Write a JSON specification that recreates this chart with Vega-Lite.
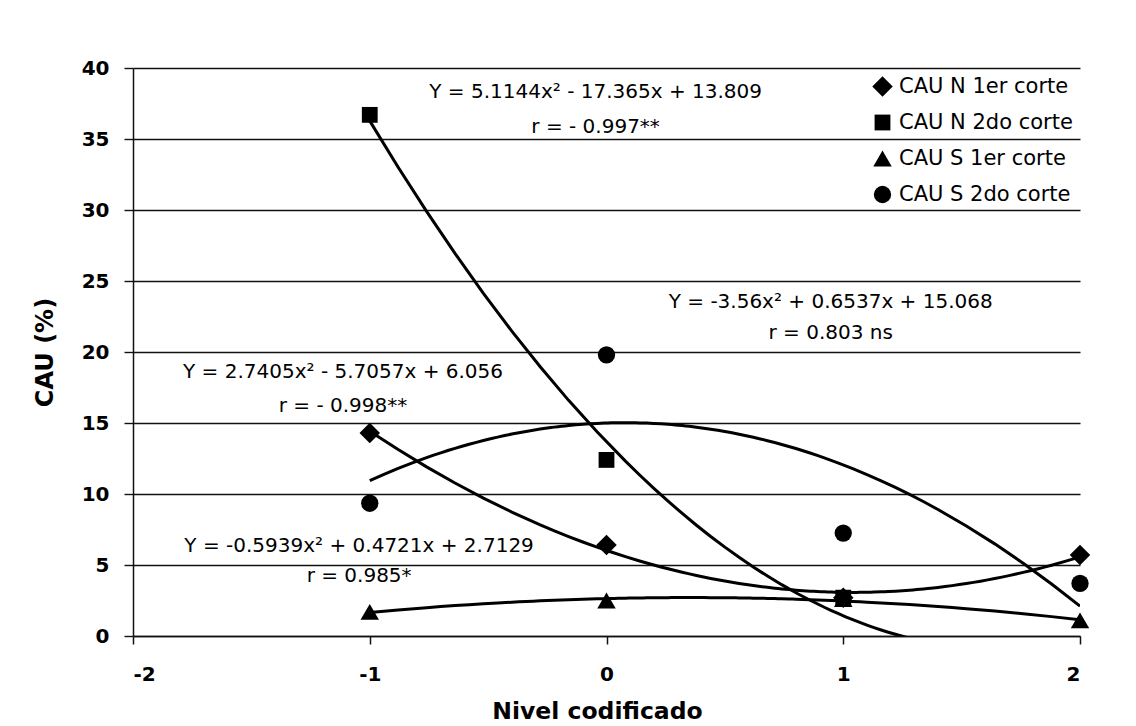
{
  "$schema": "https://vega.github.io/schema/vega-lite/v6.json",
  "width": 947,
  "height": 568,
  "autosize": {"type": "none"},
  "padding": {"left": 133, "top": 68, "right": 56, "bottom": 90},
  "background": "white",
  "config": {
    "view": {"stroke": null},
    "font": "DejaVu Sans"
  },
  "encoding": {
    "x": {
      "field": "x",
      "type": "quantitative",
      "scale": {"domain": [-2, 2], "nice": false, "zero": false},
      "axis": {
        "title": "Nivel codificado",
        "values": [-2, -1, 0, 1, 2],
        "labelExpr": "toString(datum.value)",
        "grid": false,
        "domainColor": "#111",
        "domainWidth": 1.5,
        "tickColor": "#111",
        "tickWidth": 1.5,
        "tickSize": 8,
        "labelPadding": 20,
        "labelFont": "DejaVu Sans",
        "labelFontSize": 20,
        "labelFontWeight": "bold",
        "labelColor": "#000",
        "titleFont": "DejaVu Sans",
        "titleFontSize": 23.5,
        "titleFontWeight": "bold",
        "titleColor": "#000",
        "titleBaseline": "alphabetic",
        "titleAlign": "center",
        "titleX": 464,
        "titleY": 82
      }
    },
    "y": {
      "field": "y",
      "type": "quantitative",
      "scale": {"domain": [0, 40], "nice": false, "zero": false},
      "axis": {
        "title": "CAU (%)",
        "values": [0, 5, 10, 15, 20, 25, 30, 35, 40],
        "grid": true,
        "gridColor": "#111",
        "gridWidth": 1.4,
        "gridOpacity": 1,
        "domainColor": "#111",
        "domainWidth": 1.5,
        "tickColor": "#111",
        "tickWidth": 1.4,
        "tickSize": 9,
        "labelPadding": 15,
        "labelFont": "DejaVu Sans",
        "labelFontSize": 20,
        "labelFontWeight": "bold",
        "labelColor": "#000",
        "titleFont": "DejaVu Sans",
        "titleFontSize": 24,
        "titleFontWeight": "bold",
        "titleColor": "#000",
        "titleAngle": 270,
        "titleBaseline": "alphabetic",
        "titleAlign": "center",
        "titleX": -81,
        "titleY": 284
      }
    }
  },
  "layer": [
    {
      "data": {"name": "pts"},
      "transform": [
        {"regression": "y", "on": "x", "groupby": ["series"], "method": "poly", "order": 2, "extent": [-1, 2]}
      ],
      "mark": {"type": "line", "color": "#000", "strokeWidth": 3, "clip": true},
      "encoding": {
        "detail": {"field": "series", "type": "nominal"}
      }
    },
    {
      "data": {"name": "pts"},
      "transform": [{"filter": "datum.y >= 0"}],
      "mark": {"type": "point", "filled": true, "color": "#000", "opacity": 1},
      "encoding": {
        "shape": {
          "field": "series",
          "type": "nominal",
          "scale": {
            "domain": ["CAU N 1er corte", "CAU N 2do corte", "CAU S 1er corte", "CAU S 2do corte"],
            "range": ["diamond", "square", "triangle-up", "circle"]
          },
          "legend": {
            "title": null,
            "orient": "none",
            "legendX": 739,
            "legendY": 8,
            "padding": 0,
            "labelFont": "DejaVu Sans",
            "labelFontSize": 21,
            "labelColor": "#000",
            "labelLimit": 0,
            "labelOffset": 6,
            "rowPadding": 14,
            "symbolFillColor": "#000",
            "symbolStrokeColor": "#000",
            "symbolStrokeWidth": 0
          }
        },
        "size": {
          "field": "series",
          "type": "nominal",
          "scale": {
            "type": "ordinal",
            "domain": ["CAU N 1er corte", "CAU N 2do corte", "CAU S 1er corte", "CAU S 2do corte"],
            "range": [420, 250, 340, 300]
          },
          "legend": {
            "title": null,
            "orient": "none",
            "legendX": 739,
            "legendY": 8,
            "padding": 0,
            "labelFont": "DejaVu Sans",
            "labelFontSize": 21,
            "labelColor": "#000",
            "labelLimit": 0,
            "labelOffset": 6,
            "rowPadding": 14,
            "symbolFillColor": "#000",
            "symbolStrokeColor": "#000",
            "symbolStrokeWidth": 0
          }
        }
      }
    },
    {
      "data": {"name": "ann"},
      "mark": {"type": "text", "font": "DejaVu Sans", "fontSize": 20, "color": "#000", "align": "center", "baseline": "middle"},
      "encoding": {
        "text": {"field": "label", "type": "nominal"}
      }
    }
  ],
  "datasets": {
    "pts": [
      {"series": "CAU N 1er corte", "x": -1, "y": 14.3},
      {"series": "CAU N 1er corte", "x": 0, "y": 6.4},
      {"series": "CAU N 1er corte", "x": 1, "y": 2.7},
      {"series": "CAU N 1er corte", "x": 2, "y": 5.7},
      {"series": "CAU N 2do corte", "x": -1, "y": 36.7},
      {"series": "CAU N 2do corte", "x": 0, "y": 12.4},
      {"series": "CAU N 2do corte", "x": 1, "y": 2.7},
      {"series": "CAU N 2do corte", "x": 2, "y": -0.9},
      {"series": "CAU S 1er corte", "x": -1, "y": 1.7},
      {"series": "CAU S 1er corte", "x": 0, "y": 2.5},
      {"series": "CAU S 1er corte", "x": 1, "y": 2.6},
      {"series": "CAU S 1er corte", "x": 2, "y": 1.1},
      {"series": "CAU S 2do corte", "x": -1, "y": 9.35},
      {"series": "CAU S 2do corte", "x": 0, "y": 19.8},
      {"series": "CAU S 2do corte", "x": 1, "y": 7.25},
      {"series": "CAU S 2do corte", "x": 2, "y": 3.7}
    ],
    "ann": [
      {"x": -0.046, "y": 38.3, "label": "Y = 5.1144x² - 17.365x + 13.809"},
      {"x": -0.046, "y": 35.81, "label": "r = - 0.997**"},
      {"x": 0.947, "y": 23.49, "label": "Y = -3.56x² + 0.6537x + 15.068"},
      {"x": 0.947, "y": 21.37, "label": "r = 0.803 ns"},
      {"x": -1.113, "y": 18.59, "label": "Y = 2.7405x² - 5.7057x + 6.056"},
      {"x": -1.113, "y": 16.2, "label": "r = - 0.998**"},
      {"x": -1.045, "y": 6.34, "label": "Y = -0.5939x² + 0.4721x + 2.7129"},
      {"x": -1.045, "y": 4.23, "label": "r = 0.985*"}
    ]
  }
}
